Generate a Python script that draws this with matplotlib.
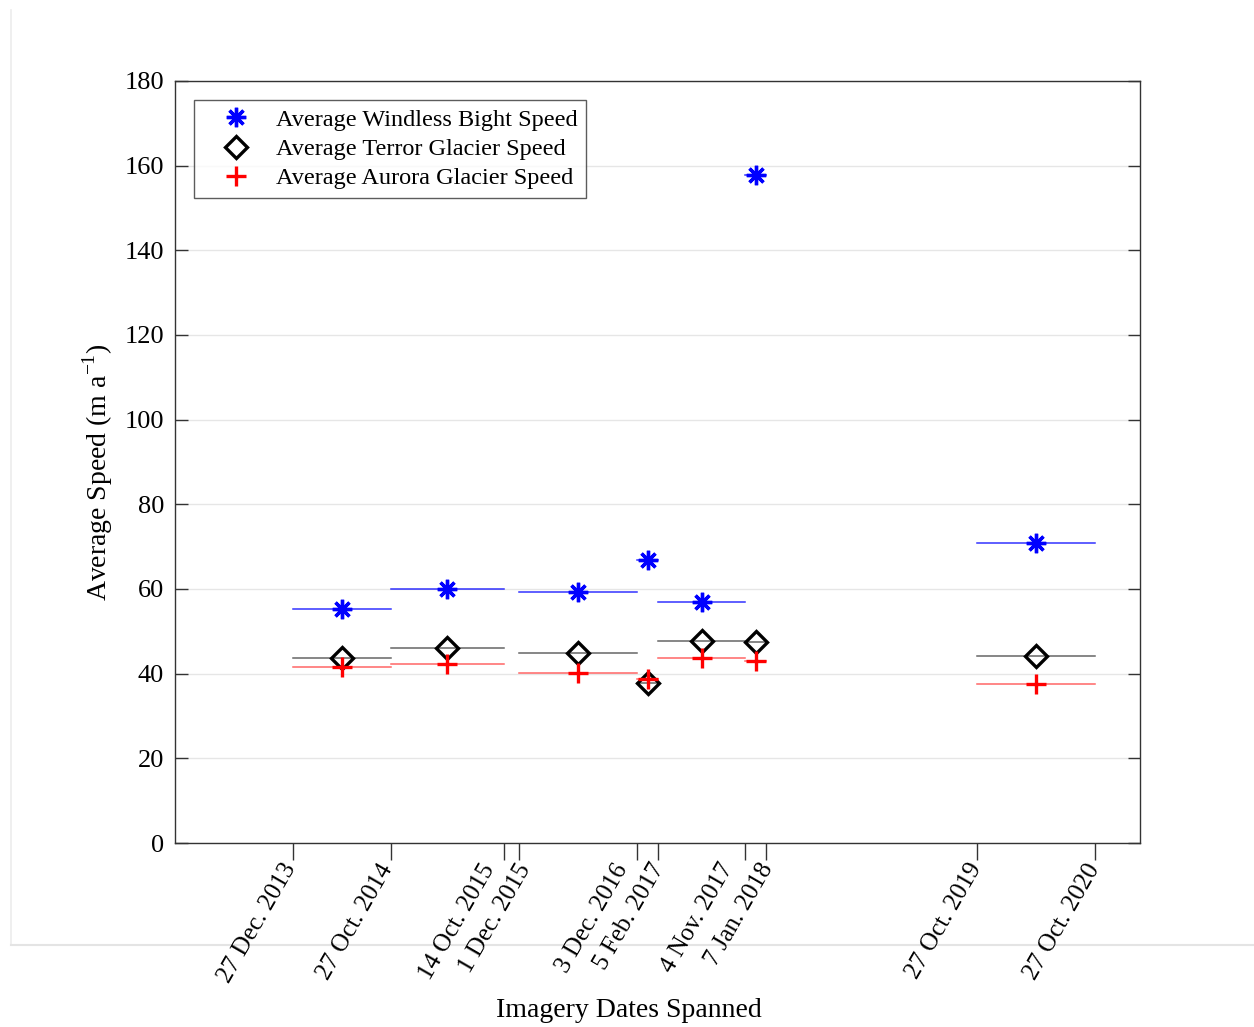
import datetime as dt
import matplotlib
matplotlib.use("Agg")
import matplotlib.pyplot as plt
import matplotlib.dates as mdates
from matplotlib.lines import Line2D
from matplotlib.transforms import ScaledTranslation

# Datos: intervalos de imagenes y velocidades medias (m/a)
fechas_inicio = ["2013-12-27", "2014-10-27", "2015-12-01", "2016-12-03",
                 "2017-02-05", "2017-11-04", "2019-10-27"]
fechas_fin = ["2014-10-27", "2015-10-14", "2016-12-03", "2017-02-05",
              "2017-11-04", "2018-01-07", "2020-10-27"]
windless_bight = [55.2, 59.9, 59.3, 66.9, 57.0, 157.8, 70.8]
terror_glacier = [43.6, 46.1, 44.9, 37.8, 47.6, 47.4, 44.2]
aurora_glacier = [41.6, 42.3, 40.2, 38.8, 43.7, 43.1, 37.6]

tick_fechas = ["2013-12-27", "2014-10-27", "2015-10-14", "2015-12-01",
               "2016-12-03", "2017-02-05", "2017-11-04", "2018-01-07",
               "2019-10-27", "2020-10-27"]
tick_textos = ["27 Dec. 2013", "27 Oct. 2014", "14 Oct. 2015", "1 Dec. 2015",
               "3 Dec. 2016", "5 Feb. 2017", "4 Nov. 2017", "7 Jan. 2018",
               "27 Oct. 2019", "27 Oct. 2020"]
# desplazamiento horizontal (px) de etiquetas muy juntas
desplaza_px = [-12, -12, -24, -3, -24, -8, -27, -7, -10, -10]

plt.rcParams["font.family"] = ["Liberation Serif", "DejaVu Serif"]
plt.rcParams["mathtext.fontset"] = "custom"
plt.rcParams["mathtext.rm"] = "Liberation Serif"


def a_num(s):
    return mdates.date2num(dt.datetime.strptime(s, "%Y-%m-%d"))


ini = [a_num(s) for s in fechas_inicio]
fin = [a_num(s) for s in fechas_fin]
medio = [(a + b) / 2 for a, b in zip(ini, fin)]

fig = plt.figure(figsize=(12.54, 10.27), dpi=100)
ax = fig.add_axes([175 / 1254, 1 - 843 / 1027, 965 / 1254, 762 / 1027])

# marco tenue de la captura (detras de todo)
fig.add_artist(Line2D([11 / 1254, 11 / 1254], [1 - 945 / 1027, 1 - 10 / 1027],
                      color="#ececec", lw=1.2, transform=fig.transFigure, zorder=-1))
fig.add_artist(Line2D([11 / 1254, 1.0], [1 - 945 / 1027, 1 - 945 / 1027],
                      color="#e4e4e4", lw=1.5, transform=fig.transFigure, zorder=-1))

# lineas horizontales de cada intervalo
for i in range(len(ini)):
    ax.plot([ini[i], fin[i]], [windless_bight[i]] * 2, color="blue", lw=1.1, alpha=0.8, zorder=2)
    ax.plot([ini[i], fin[i]], [terror_glacier[i]] * 2, color="black", lw=1.1, alpha=0.6, zorder=2)
    ax.plot([ini[i], fin[i]], [aurora_glacier[i]] * 2, color="red", lw=1.1, alpha=0.6, zorder=2)

ax.plot(medio, windless_bight, linestyle="none", marker=(8, 2, 0), markersize=14,
        markeredgewidth=2.4, color="blue", label="Average Windless Bight Speed", zorder=4)
ax.plot(medio, terror_glacier, linestyle="none", marker="D", markersize=11.5,
        markeredgewidth=2.4, markerfacecolor="none", markeredgecolor="black",
        label="Average Terror Glacier Speed", zorder=3)
ax.plot(medio, aurora_glacier, linestyle="none", marker="+", markersize=14,
        markeredgewidth=2.4, color="red", label="Average Aurora Glacier Speed", zorder=4)

ax.set_xlim(a_num("2012-12-25"), a_num("2021-03-16"))
ax.set_ylim(0, 180)
ax.set_yticks(range(0, 181, 20))
ax.grid(axis="y", color="#e6e6e6", lw=1, zorder=0)
ax.set_axisbelow(True)

ax.set_xticks([a_num(s) for s in tick_fechas])
ax.set_xticklabels(tick_textos, rotation=60, ha="right", va="top",
                   rotation_mode="anchor", fontsize=18)
ax.tick_params(axis="x", direction="out", length=12, width=1, color="#333333", pad=0)
ax.tick_params(axis="y", direction="in", length=9, width=1, color="#333333",
               right=True, labelsize=19, pad=8)
for etiqueta, dx in zip(ax.get_xticklabels(), desplaza_px):
    etiqueta.set_transform(etiqueta.get_transform() +
                           ScaledTranslation(dx / 100, 0, fig.dpi_scale_trans))
for sp in ax.spines.values():
    sp.set_color("#333333")
    sp.set_linewidth(1)

ax.set_xlabel("Imagery Dates Spanned", fontsize=20)
ax.xaxis.set_label_coords(0.4705, -0.204)
ax.set_ylabel("Average Speed (m a$^{\\mathregular{-1}}$)", fontsize=20)
ax.yaxis.set_label_coords(-0.062, 0.487)

leg = ax.legend(loc="upper left", fontsize=17.5, frameon=True, fancybox=False,
                edgecolor="#333333", borderaxespad=0.8, handlelength=2.7,
                handletextpad=0.3, labelspacing=0.29, borderpad=0.35)
leg.get_frame().set_linewidth(1)

fig.savefig("out.png", dpi=100, facecolor="white")
